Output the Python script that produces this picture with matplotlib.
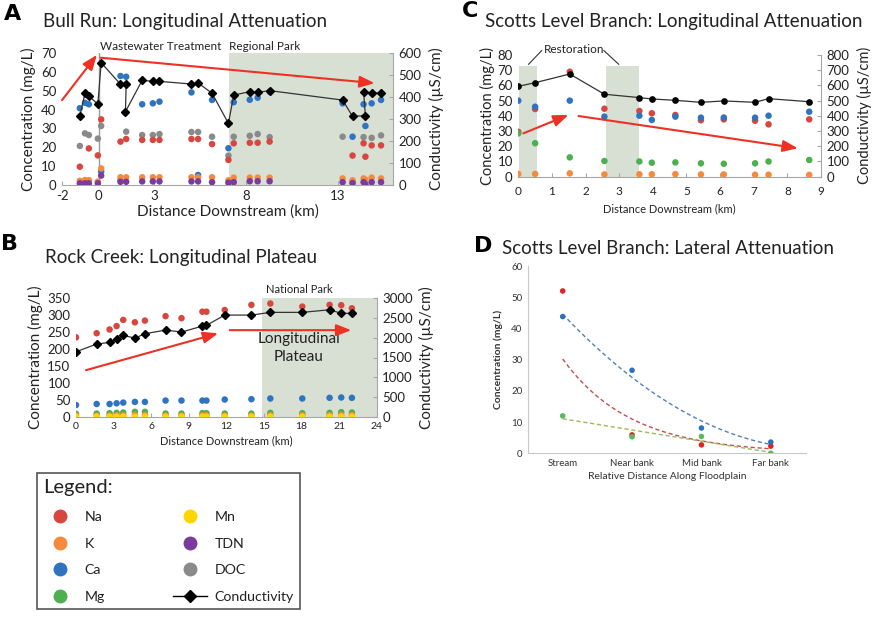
import numpy as np
import matplotlib
matplotlib.use("Agg")
import matplotlib.pyplot as plt
from matplotlib.lines import Line2D

plt.rcParams['font.family'] = ['Lato', 'DejaVu Sans']
plt.rcParams['axes.unicode_minus'] = False

# ---------------- colours ----------------
C_NA = '#d8473f'
C_K = '#f58a3c'
C_CA = '#2f74c0'
C_MG = '#4caf50'
C_MN = '#ffd500'
C_TDN = '#7a3a9e'
C_DOC = '#8a8a8a'
SHADE = '#d8e0d3'
ARROW = '#ee3124'
AXC = '#a6a6a6'
TXT = '#222222'
nan = np.nan

# ---------------- Panel A: Bull Run ----------------
a_km = [-1.03, -0.75, -0.54, -0.05, 0.13, 1.18, 1.49, 1.45, 2.36, 2.94, 3.30, 5.04, 5.40,
        6.16, 7.05, 7.34, 8.21, 8.64, 9.29, 13.26, 13.8, 14.5, 14.4, 14.84, 15.35]
a_ca = [40.7, 43.6, 42.8, nan, 7.1, 57.8, 57.4, 38.3, 42.8, 43.3, 44.2, 49.1, 5.3,
        45.1, 19.5, 43.9, 45.2, 46.3, 49.5, 43.3, 25.6, 31.3, 42.8, 43.3, 45.1]
a_na = [9.7, nan, 19.4, 15.7, 34.8, 23.0, 24.4, nan, 23.9, 23.9, 23.9, 24.4, 24.4,
        21.7, 13.3, 22.1, 22.4, 22.4, 23.0, nan, 15.6, 15.0, 22.1, 21.0, 21.0]
a_doc = [20.7, 27.4, 26.5, 24.6, 31.3, 2.6, 28.3, nan, 26.5, 26.5, 27.0, 28.1, 28.1,
         25.6, 15.6, 25.6, 26.1, 27.0, 25.4, 25.6, 1.8, nan, 25.4, 25.0, 26.3]
a_k = [2.2, 2.6, 2.6, 1.8, 8.8, 4.1, 4.1, nan, 4.1, 4.1, 4.1, 4.1, 4.1,
       4.1, 2.5, 3.9, 3.9, 3.9, 3.9, 3.5, 2.5, 2.8, 3.5, 3.9, 3.5]
a_tdn = [0.9, 0.9, 0.9, 0.9, 5.0, 1.7, 1.7, nan, 1.9, 1.9, 1.9, 1.9, 1.9,
         1.5, 1.2, 1.5, 2.0, 2.0, 2.0, 1.5, 1.0, 0.3, 1.5, 1.5, 1.5]
a_cond = [314, 417, 405, 367, 556, 458, 458, 333, 476, 471, 471, 459, 464,
          417, 280, 409, 424, 421, 429, 386, 312, 315, 424, 418, 418]
a_xticks = [-2, 0, 3, 8, 13]

# ---------------- Panel B: Rock Creek ----------------
b_km = [0, 1.65, 2.68, 3.24, 3.77, 4.7, 5.5, 7.15, 8.42, 10.09, 10.41, 11.87, 14.0,
        15.51, 18.06, 20.24, 21.17, 22.02]
b_cond = [1644, 1837, 1880, 1962, 2055, 1987, 2095, 2188, 2138, 2288, 2306, 2564, 2564,
          2632, 2632, 2697, 2607, 2607]
b_na = [234, 246, 257, 267, 285, 278, 283, 296, 290, 309, 309, 314, 329, 333, 324, 329, 328, 319]
b_ca = [36, 39, 39, 41, 43, 45, 45, 49, 49, 49, 49, 52, 53, 55, 55, 57, 58, 57]
b_mg = [10, 11, 12, 13, 14, 16, 16, 11, 11, 12, 12, 11, 11, 13, 12, 13, 15, 14]
b_k = [5, 5, 5, 6, 6, 7, 7, 5, 5, 6, 6, 5, 5, 6, 6, 6, 7, 7]
b_mn = [2, 2, 2, 2, 2, 2, 2, 2, 2, 2, 2, 2, 2, 2, 2, 2, 2, 2]

# ---------------- Panel C: Scotts Level Branch ----------------
c_km = [0, 0.5, 1.53, 2.56, 3.6, 3.97, 4.67, 5.43, 6.11, 7.04, 7.44, 8.65]
c_cond = [594, 618, 675, 542, 520, 511, 502, 489, 498, 489, 513, 493]
c_ca = [50.0, 46.0, 50.0, 39.5, 40.1, 37.3, 39.5, 38.8, 38.9, 38.8, 40.1, 42.7]
c_na = [29.5, 44.5, 69.0, 44.7, 43.2, 41.7, 40.6, 37.1, 37.7, 36.8, 34.4, 37.7]
c_mg = [28.5, 22.0, 12.7, 10.3, 10.0, 9.2, 9.4, 8.8, 8.5, 8.8, 10.0, 11.0]
c_k = [1.8, 1.8, 2.2, 1.5, 1.6, 1.6, 1.7, 1.5, 1.5, 1.3, 1.3, 1.2]

# ---------------- Panel D: lateral ----------------
d_cats = ['Stream', 'Near bank', 'Mid bank', 'Far bank']
d_na = [52.0, 5.9, 2.7, 2.3]
d_ca = [43.8, 26.6, 8.1, 3.6]
d_mg = [12.0, 5.3, 5.4, 0.0]

fig = plt.figure(figsize=(8.72, 6.18), dpi=100)
W, H = 872.0, 618.0


def fax(x0, y0, x1, y1):
    return fig.add_axes([x0 / W, 1 - y1 / H, (x1 - x0) / W, (y1 - y0) / H])


def style_pair(ax, ax2, tick_fs):
    for s in ['top', 'left', 'right']:
        ax.spines[s].set_visible(False)
    ax.spines['bottom'].set_color(AXC)
    for s in ['top', 'left', 'bottom']:
        ax2.spines[s].set_visible(False)
    ax2.spines['right'].set_color(AXC)
    ax.tick_params(axis='y', length=0, labelsize=tick_fs, colors=TXT, pad=4)
    ax.tick_params(axis='x', direction='in', length=3, color=AXC, labelsize=tick_fs,
                   labelcolor=TXT)
    ax2.tick_params(axis='y', direction='in', length=3, color=AXC, labelsize=tick_fs,
                    labelcolor=TXT, pad=4)


def dots(ax, x, y, c, s=22):
    ax.scatter(x, y, s=s, color=c, edgecolors='none', zorder=3)


def arrow(ax, x0, y0, x1, y1):
    ax.annotate('', xy=(x1, y1), xytext=(x0, y0), annotation_clip=False,
                arrowprops=dict(arrowstyle='-|>,head_length=0.9,head_width=0.35',
                                color=ARROW, lw=1.5, shrinkA=0, shrinkB=0), zorder=6)


# ======== Panel A ========
axA = fax(62, 53, 393, 185)
axA2 = axA.twinx()
axA.axvspan(7.07, 16, color=SHADE, zorder=0, lw=0)
axA.axvline(0, color='#999999', lw=1, zorder=1)
dots(axA, a_km, a_doc, C_DOC)
dots(axA, a_km, a_na, C_NA)
dots(axA, a_km, a_ca, C_CA)
dots(axA, a_km, a_k, C_K)
dots(axA, a_km, a_tdn, C_TDN)
axA2.plot(a_km, a_cond, color='#333333', lw=0.9, marker='D', ms=3.8, mfc='black', mec='black')
axA.set_xlim(-2, 16)
axA.set_ylim(0, 70)
axA.set_yticks(range(0, 71, 10))
axA.set_xticks(a_xticks)
axA2.set_ylim(0, 600)
axA2.set_yticks(range(0, 601, 100))
style_pair(axA, axA2, 9.5)
axA.set_xlabel('Distance Downstream (km)', fontsize=11, color=TXT, labelpad=2)
axA.set_ylabel('Concentration (mg/L)', fontsize=11, color=TXT, labelpad=4)
axA2.set_ylabel('Conductivity (µS/cm)', fontsize=11, color=TXT, labelpad=5)
axA.text(0.05, 70.6, 'Wastewater Treatment', fontsize=8.5, color=TXT, va='bottom', ha='left')
axA.text(7.1, 70.6, 'Regional Park', fontsize=8.5, color=TXT, va='bottom', ha='left')
arrow(axA, -2.0, 45, -0.1, 69)
arrow(axA, 0.1, 67.5, 15.0, 54)
fig.text(13 / W, 1 - 14 / H, 'A', fontsize=16, fontweight='bold', ha='center', va='center',
         family=['DejaVu Sans'])
fig.text(43 / W, 1 - 27 / H, 'Bull Run: Longitudinal Attenuation', fontsize=13.5, color=TXT,
         va='baseline', ha='left')

# ======== Panel C ========
axC = fax(518.3, 55, 821, 176.7)
axC2 = axC.twinx()
axC.axvspan(0.03, 0.55, ymax=72.5 / 80, color=SHADE, zorder=0, lw=0)
axC.axvspan(2.6, 3.58, ymax=72.5 / 80, color=SHADE, zorder=0, lw=0)
dots(axC, c_km, c_na, C_NA)
dots(axC, c_km, c_ca, C_CA)
dots(axC, c_km, c_mg, C_MG)
dots(axC, c_km, c_k, C_K)
axC2.plot(c_km, c_cond, color='#333333', lw=0.9, marker='o', ms=3.8, mfc='black', mec='black')
axC.set_xlim(0, 9)
axC.set_ylim(0, 80)
axC.set_xticks(range(0, 10))
axC.set_yticks(range(0, 81, 10))
axC2.set_ylim(0, 800)
axC2.set_yticks(range(0, 801, 100))
style_pair(axC, axC2, 9.5)
axC.tick_params(axis='x', labelsize=8.5, pad=7)
axC.set_xlabel('Distance Downstream (km)', fontsize=8, color=TXT, labelpad=4)
axC.set_ylabel('Concentration (mg/L)', fontsize=10.5, color=TXT, labelpad=2)
axC2.set_ylabel('Conductivity (µS/cm)', fontsize=10.5, color=TXT, labelpad=5)
axC.text(1.66, 83.3, 'Restoration', fontsize=8.5, color=TXT, ha='center', va='center')
for (x0, x1) in [(0.70, 0.30), (2.54, 2.99)]:
    axC.annotate('', xy=(x1, 73.8), xytext=(x0, 83.0), annotation_clip=False,
                 arrowprops=dict(arrowstyle='-', color='#333333', lw=0.8, shrinkA=0, shrinkB=0))
arrow(axC, 0.15, 28.5, 1.49, 40.6)
arrow(axC, 1.79, 39.9, 8.31, 18.7)
fig.text(470 / W, 1 - 11 / H, 'C', fontsize=16, fontweight='bold', ha='center', va='center',
         family=['DejaVu Sans'])
fig.text(485 / W, 1 - 26.7 / H, 'Scotts Level Branch: Longitudinal Attenuation', fontsize=13.5,
         color=TXT, va='baseline', ha='left')

# ======== Panel B ========
axB = fax(76, 297.7, 376.7, 417.3)
axB2 = axB.twinx()
axB.axvspan(14.85, 24, color=SHADE, zorder=0, lw=0)
dots(axB, b_km, b_na, C_NA)
dots(axB, b_km, b_ca, C_CA)
dots(axB, b_km, b_mg, C_MG)
dots(axB, b_km, b_k, C_K)
dots(axB, b_km, b_mn, C_MN)
axB2.plot(b_km, b_cond, color='#333333', lw=0.9, marker='D', ms=3.8, mfc='black', mec='black')
axB.set_xlim(0, 24)
axB.set_ylim(0, 350)
axB.set_xticks(range(0, 25, 3))
axB.set_yticks(range(0, 351, 50))
axB2.set_ylim(0, 3000)
axB2.set_yticks(range(0, 3001, 500))
style_pair(axB, axB2, 9.5)
axB.tick_params(axis='x', labelsize=7.5)
axB.set_xlabel('Distance Downstream (km)', fontsize=8, color=TXT, labelpad=3)
axB.set_ylabel('Concentration (mg/L)', fontsize=11, color=TXT, labelpad=3)
axB2.set_ylabel('Conductivity (µS/cm)', fontsize=11, color=TXT, labelpad=4)
axB.text(15.2, 358, 'National Park', fontsize=8, color=TXT, ha='left', va='bottom')
axB.text(17.77, 203, 'Longitudinal\nPlateau', fontsize=11, color=TXT, ha='center', va='center',
         linespacing=1.35)
arrow(axB, 0.8, 138, 11.34, 245.6)
arrow(axB, 12.27, 255, 21.97, 255)
fig.text(9 / W, 1 - 244 / H, 'B', fontsize=16, fontweight='bold', ha='center', va='center',
         family=['DejaVu Sans'])
fig.text(45 / W, 1 - 263.3 / H, 'Rock Creek: Longitudinal Plateau', fontsize=13.5, color=TXT,
         va='baseline', ha='left')

# ======== Panel D ========
axD = fax(528, 266, 805.5, 453.3)
xd = np.arange(len(d_cats))
xs = np.linspace(0, len(d_cats) - 1, 100)
# trend lines fitted from the data
p_ca = np.polyfit(xd, d_ca, 2)
p_na = np.polyfit(xd, np.log(d_na), 1)
p_mg = np.polyfit(xd, d_mg, 1)
axD.plot(xs, np.polyval(p_ca, xs), ls=(0, (3, 2)), color='#4f81bd', lw=1)
axD.plot(xs, np.exp(np.polyval(p_na, xs)), ls=(0, (3, 2)), color='#c0504d', lw=1)
axD.plot(xs, np.polyval(p_mg, xs), ls=(0, (3, 2)), color='#9bbb59', lw=1)
axD.scatter(xd, d_na, s=16, color='#e02424', edgecolors='none', zorder=3)
axD.scatter(xd, d_ca, s=16, color='#2e6fc0', edgecolors='none', zorder=3)
axD.scatter(xd, d_mg, s=16, color='#5cb85c', edgecolors='none', zorder=3)
axD.set_xlim(-0.5, len(d_cats) - 0.5)
axD.set_ylim(0, 60)
axD.set_yticks(range(0, 61, 10))
axD.set_xticks(xd)
axD.set_xticklabels(d_cats)
for s in ['top', 'right']:
    axD.spines[s].set_visible(False)
for s in ['left', 'bottom']:
    axD.spines[s].set_color('#c8c8c8')
axD.tick_params(axis='both', length=0, labelsize=7, labelcolor='#333333', pad=4)
axD.set_xlabel('Relative Distance Along Floodplain', fontsize=7.5, color='#333333', labelpad=3)
axD.set_ylabel('Concentration (mg/L)', fontsize=7.5, color='#333333', labelpad=6,
               fontweight='bold')
fig.text(483 / W, 1 - 246 / H, 'D', fontsize=16, fontweight='bold', ha='center', va='center',
         family=['DejaVu Sans'])
fig.text(501.7 / W, 1 - 254.3 / H, 'Scotts Level Branch: Lateral Attenuation', fontsize=13.5,
         color=TXT, va='baseline', ha='left')

# ======== Legend ========
leg_labels = ['Na', 'K', 'Ca', 'Mg', 'Mn', 'TDN', 'DOC', 'Conductivity']
leg_colors = [C_NA, C_K, C_CA, C_MG, C_MN, C_TDN, C_DOC, 'black']
handles = []
for lab, col in zip(leg_labels, leg_colors):
    if lab == 'Conductivity':
        handles.append(Line2D([], [], color='black', lw=1, marker='D', ms=6))
    else:
        handles.append(Line2D([], [], ls='none', marker='o', ms=9, color=col))
leg = fig.legend(handles, leg_labels, ncol=2, loc='upper left',
                 bbox_to_anchor=(37 / W, 1 - 614 / H, 263 / W, 141 / H), mode='expand',
                 fontsize=10.2, title='Legend:', title_fontsize=14.5, alignment='left',
                 frameon=True, fancybox=False, edgecolor='#555555', framealpha=1,
                 handlelength=2.4, handletextpad=0.5, labelspacing=1.03, borderpad=0.45,
                 columnspacing=1.0, borderaxespad=0)
leg.get_frame().set_linewidth(1.2)
for t in leg.get_texts():
    t.set_color(TXT)
leg.get_title().set_color(TXT)

fig.savefig('out.png', dpi=100)
